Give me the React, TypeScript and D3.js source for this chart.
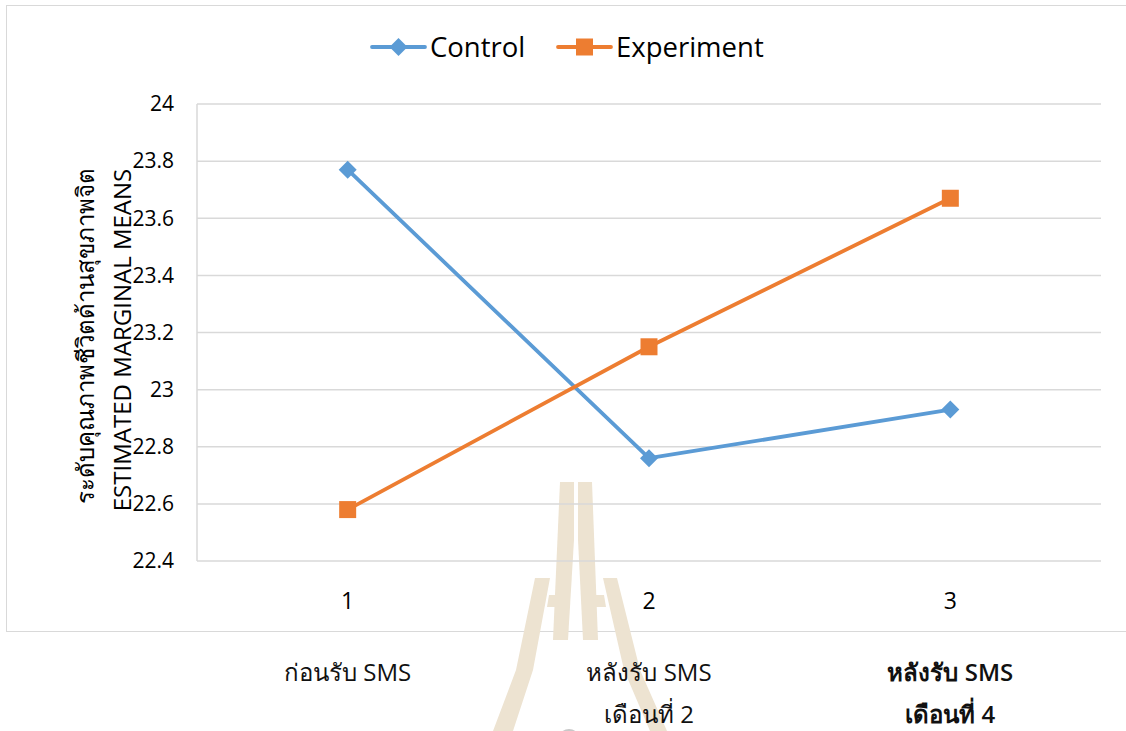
import { useRef, useEffect } from 'react';
import * as d3 from 'd3';

const categories = ['1', '2', '3'];
const phaseLabels = [['ก่อนรับ SMS'], ['หลังรับ SMS', 'เดือนที่ 2'], ['หลังรับ SMS', 'เดือนที่ 4']];
const controlValues = [23.77, 22.76, 22.93];
const experimentValues = [22.58, 23.15, 23.67];
const yTicks = [22.4, 22.6, 22.8, 23, 23.2, 23.4, 23.6, 23.8, 24];

const W = 1126;
const H = 731;
const BLUE = '#5B9BD5';
const ORANGE = '#ED7D31';
const GRID = '#D9D9D9';
const FONT = '"Open Sans", "Noto Sans", sans-serif';

const App = () => {
  const svgRef = useRef<SVGSVGElement | null>(null);

  useEffect(() => {
    const svg = d3.select(svgRef.current);
    svg.selectAll('*').remove();

    const plot = { left: 197, right: 1101, top: 104, bottom: 561 };

    const x = d3.scaleBand<string>()
      .domain(categories)
      .range([plot.left, plot.right]);

    const y = d3.scaleLinear()
      .domain([22.4, 24])
      .range([plot.bottom, plot.top]);

    // chart area frame
    svg.append('rect')
      .attr('x', 6.5).attr('y', 5.5)
      .attr('width', W + 10).attr('height', 626)
      .attr('fill', '#fff')
      .attr('stroke', GRID);

    // faint watermark left over from the document page
    const wm = svg.append('g').attr('fill', '#EDE3D1');
    const shapes: [number, number][][] = [
      [[560, 482], [574, 482], [574, 540], [568, 640], [553, 640]],
      [[578, 482], [592, 482], [598, 640], [583, 640], [578, 540]],
      [[535, 578], [550, 578], [533, 670], [513, 731], [493, 731], [516, 670]],
      [[603, 578], [617, 578], [640, 670], [667, 731], [650, 731], [624, 670]],
      [[549, 595], [559, 595], [558, 607], [547, 607]],
      [[592, 595], [604, 595], [606, 607], [594, 607]],
    ];
    shapes.forEach(s => {
      wm.append('path').attr('d', d3.line()(s) + 'Z');
    });
    svg.append('path')
      .attr('d', d3.arc()({ innerRadius: 0, outerRadius: 11, startAngle: -Math.PI / 2, endAngle: Math.PI / 2 }) as string)
      .attr('transform', 'translate(569,740)')
      .attr('fill', '#C8C8C8');

    // gridlines
    svg.append('g')
      .selectAll('line')
      .data(yTicks)
      .enter()
      .append('line')
      .attr('x1', plot.left).attr('x2', plot.right)
      .attr('y1', d => y(d)).attr('y2', d => y(d))
      .attr('stroke', GRID)
      .attr('stroke-width', 1.5);

    svg.append('line')
      .attr('x1', plot.left).attr('x2', plot.left)
      .attr('y1', plot.top).attr('y2', plot.bottom)
      .attr('stroke', GRID)
      .attr('stroke-width', 1.5);

    // y tick labels
    svg.append('g')
      .selectAll('text')
      .data(yTicks)
      .enter()
      .append('text')
      .attr('x', 174)
      .attr('y', d => y(d))
      .attr('dy', '0.35em')
      .attr('text-anchor', 'end')
      .style('font-family', FONT)
      .style('font-size', '21px')
      .attr('fill', '#000')
      .text(d => String(d));

    // x tick labels
    svg.append('g')
      .selectAll('text')
      .data(categories)
      .enter()
      .append('text')
      .attr('x', d => (x(d) as number) + x.bandwidth() / 2)
      .attr('y', 609)
      .attr('text-anchor', 'middle')
      .style('font-family', FONT)
      .style('font-size', '23px')
      .attr('fill', '#000')
      .text(d => d);

    // phase labels under the frame
    phaseLabels.forEach((lines, i) => {
      const cx = (x(categories[i]) as number) + x.bandwidth() / 2;
      lines.forEach((ln, j) => {
        svg.append('text')
          .attr('x', cx)
          .attr('y', 681 + j * 42)
          .attr('text-anchor', 'middle')
          .style('font-family', FONT)
          .style('font-size', '24px')
          .style('font-weight', i === 2 ? 600 : 400)
          .attr('fill', '#111')
          .text(ln);
      });
    });

    // axis titles
    svg.append('text')
      .attr('transform', 'translate(94,336) rotate(-90)')
      .attr('text-anchor', 'middle')
      .style('font-family', FONT)
      .style('font-size', '24px')
      .attr('fill', '#000')
      .text('ระดับคุณภาพชีวิตด้านสุขภาพจิต');

    svg.append('text')
      .attr('transform', 'translate(131,340) rotate(-90)')
      .attr('text-anchor', 'middle')
      .style('font-family', FONT)
      .style('font-size', '24px')
      .attr('fill', '#000')
      .text('ESTIMATED MARGINAL MEANS');

    // series
    const series = [
      { name: 'Control', values: controlValues, color: BLUE, marker: 'diamond' },
      { name: 'Experiment', values: experimentValues, color: ORANGE, marker: 'square' },
    ];

    const line = d3.line<number>()
      .x((_, i) => (x(categories[i]) as number) + x.bandwidth() / 2)
      .y(d => y(d));

    const diamond = 'M0,-9L9,0L0,9L-9,0Z';
    const square = 'M-8.5,-8.5H8.5V8.5H-8.5Z';

    series.forEach(s => {
      svg.append('path')
        .datum(s.values)
        .attr('fill', 'none')
        .attr('stroke', s.color)
        .attr('stroke-width', 3.8)
        .attr('stroke-linejoin', 'round')
        .attr('d', line);

      svg.append('g')
        .selectAll('path')
        .data(s.values)
        .enter()
        .append('path')
        .attr('transform', (d, i) => `translate(${(x(categories[i]) as number) + x.bandwidth() / 2},${y(d)})`)
        .attr('d', s.marker === 'diamond' ? diamond : square)
        .attr('fill', s.color);
    });

    // legend
    const legendItems = [
      { name: 'Control', color: BLUE, marker: diamond, x0: 372 },
      { name: 'Experiment', color: ORANGE, marker: square, x0: 558 },
    ];
    const lg = svg.append('g');
    legendItems.forEach(it => {
      lg.append('line')
        .attr('x1', it.x0).attr('x2', it.x0 + 53)
        .attr('y1', 47).attr('y2', 47)
        .attr('stroke', it.color)
        .attr('stroke-width', 3.8)
        .attr('stroke-linecap', 'round');
      lg.append('path')
        .attr('transform', `translate(${it.x0 + 26.5},47)`)
        .attr('d', it.marker)
        .attr('fill', it.color);
      lg.append('text')
        .attr('x', it.x0 + 58)
        .attr('y', 47)
        .attr('dy', '0.35em')
        .style('font-family', FONT)
        .style('font-size', '27.5px')
        .attr('fill', '#000')
        .text(it.name);
    });
  }, []);

  return (
    <svg
      ref={svgRef}
      width={W}
      height={H}
      style={{ position: 'absolute', left: 0, top: 0, background: '#fff' }}
    ></svg>
  );
};

export default App;
